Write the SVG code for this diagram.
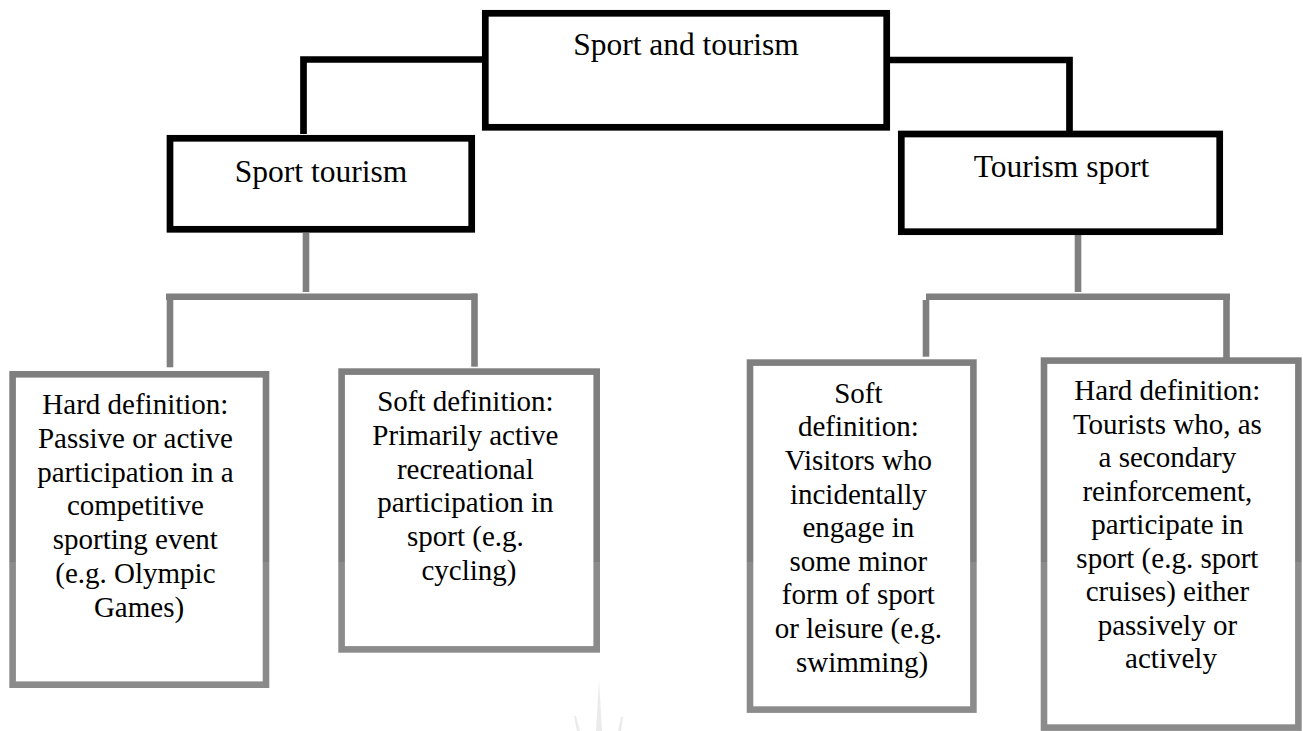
<svg xmlns="http://www.w3.org/2000/svg" width="1303" height="731" viewBox="0 0 1303 731">
<style>
.blk{fill:#fff;stroke:#000;stroke-width:6.7}
.gry{fill:#fff;stroke:url(#gband);stroke-width:6.6}
.cb{fill:none;stroke:#000;stroke-width:6.7;stroke-linejoin:miter;stroke-linecap:butt}
.cg{fill:none;stroke:#7f7f7f;stroke-width:6.6;stroke-linecap:butt}
.t{font-family:"Liberation Serif","Times New Roman",serif;fill:#000;text-anchor:middle}
.big{font-size:31.5px}
.sm{font-size:29px}
</style>
<defs>
<linearGradient id="gband" gradientUnits="userSpaceOnUse" x1="0" y1="0" x2="0" y2="731">
<stop offset="0" stop-color="#7f7f7f"/>
<stop offset="0.7685" stop-color="#7f7f7f"/>
<stop offset="0.7685" stop-color="#8b8b8b"/>
<stop offset="1" stop-color="#8b8b8b"/>
</linearGradient>
</defs>
<rect width="1303" height="731" fill="#fff"/>
<g id="watermark" fill="#ebebeb">
<polygon points="596,731 599,680 602,731"/>
<polygon points="574,716 576,716 580,731 577,731"/>
<polygon points="621,717 623,717 621,731 618,731"/>
</g>
<g id="connectors">
<path class="cb" d="M303.5 134 V59.5 H482"/>
<path class="cb" d="M890 60 H1069.5 V131"/>
<line class="cg" x1="306" y1="233" x2="306" y2="292"/>
<line class="cg" x1="166" y1="296.7" x2="477" y2="296.7"/>
<line class="cg" x1="170" y1="300" x2="170" y2="367.3"/>
<line class="cg" x1="474.5" y1="293.5" x2="474.5" y2="366.7"/>
<line class="cg" x1="1078" y1="235" x2="1078" y2="292"/>
<line class="cg" x1="926" y1="296.7" x2="1230" y2="296.7"/>
<line class="cg" x1="926" y1="300" x2="926" y2="356.7"/>
<line class="cg" x1="1226.5" y1="297" x2="1226.5" y2="358"/>
</g>
<g id="sport-and-tourism">
<rect class="blk" x="485.3" y="13.3" width="401.4" height="114"/>
<text class="t big" x="686" y="55">Sport and tourism</text>
</g>
<g id="sport-tourism">
<rect class="blk" x="170" y="138.3" width="301.7" height="91"/>
<text class="t big" x="321" y="181.7">Sport tourism</text>
</g>
<g id="tourism-sport">
<rect class="blk" x="901.3" y="134" width="318.4" height="97.7"/>
<text class="t big" x="1061.5" y="177.3">Tourism sport</text>
</g>
<g id="hard-def-left">
<rect class="gry" x="12.6" y="374.3" width="253.4" height="310.4"/>
<text class="t sm" x="139" y="414.3">
<tspan x="139">Hard definition:</tspan>
<tspan x="139" dy="33.7">Passive or active</tspan>
<tspan x="139" dy="33.7">participation in a</tspan>
<tspan x="139" dy="33.7">competitive</tspan>
<tspan x="139" dy="33.7">sporting event</tspan>
<tspan x="139" dy="33.7">(e.g. Olympic</tspan>
<tspan x="139" dy="33.7">Games)</tspan>
</text>
</g>
<g id="soft-def-left">
<rect class="gry" x="341.6" y="371.6" width="255.1" height="277.8"/>
<text class="t sm" x="469" y="411">
<tspan x="469">Soft definition:</tspan>
<tspan x="469" dy="33.8">Primarily active</tspan>
<tspan x="469" dy="33.8">recreational</tspan>
<tspan x="469" dy="33.8">participation in</tspan>
<tspan x="469" dy="33.8">sport (e.g.</tspan>
<tspan x="469" dy="33.8">cycling)</tspan>
</text>
</g>
<g id="soft-def-right">
<rect class="gry" x="750" y="362.6" width="223.4" height="347"/>
<text class="t sm" x="862" y="402.7">
<tspan x="862">Soft</tspan>
<tspan x="862" dy="33.6">definition:</tspan>
<tspan x="862" dy="33.6">Visitors who</tspan>
<tspan x="862" dy="33.6">incidentally</tspan>
<tspan x="862" dy="33.6">engage in</tspan>
<tspan x="862" dy="33.6">some minor</tspan>
<tspan x="862" dy="33.6">form of sport</tspan>
<tspan x="862" dy="33.6">or leisure (e.g.</tspan>
<tspan x="862" dy="33.6">swimming)</tspan>
</text>
</g>
<g id="hard-def-right">
<rect class="gry" x="1044" y="360.6" width="254.4" height="367"/>
<text class="t sm" x="1171" y="400">
<tspan x="1171">Hard definition:</tspan>
<tspan x="1171" dy="33.5">Tourists who, as</tspan>
<tspan x="1171" dy="33.5">a secondary</tspan>
<tspan x="1171" dy="33.5">reinforcement,</tspan>
<tspan x="1171" dy="33.5">participate in</tspan>
<tspan x="1171" dy="33.5">sport (e.g. sport</tspan>
<tspan x="1171" dy="33.5">cruises) either</tspan>
<tspan x="1171" dy="33.5">passively or</tspan>
<tspan x="1171" dy="33.5">actively</tspan>
</text>
</g>
</svg>
